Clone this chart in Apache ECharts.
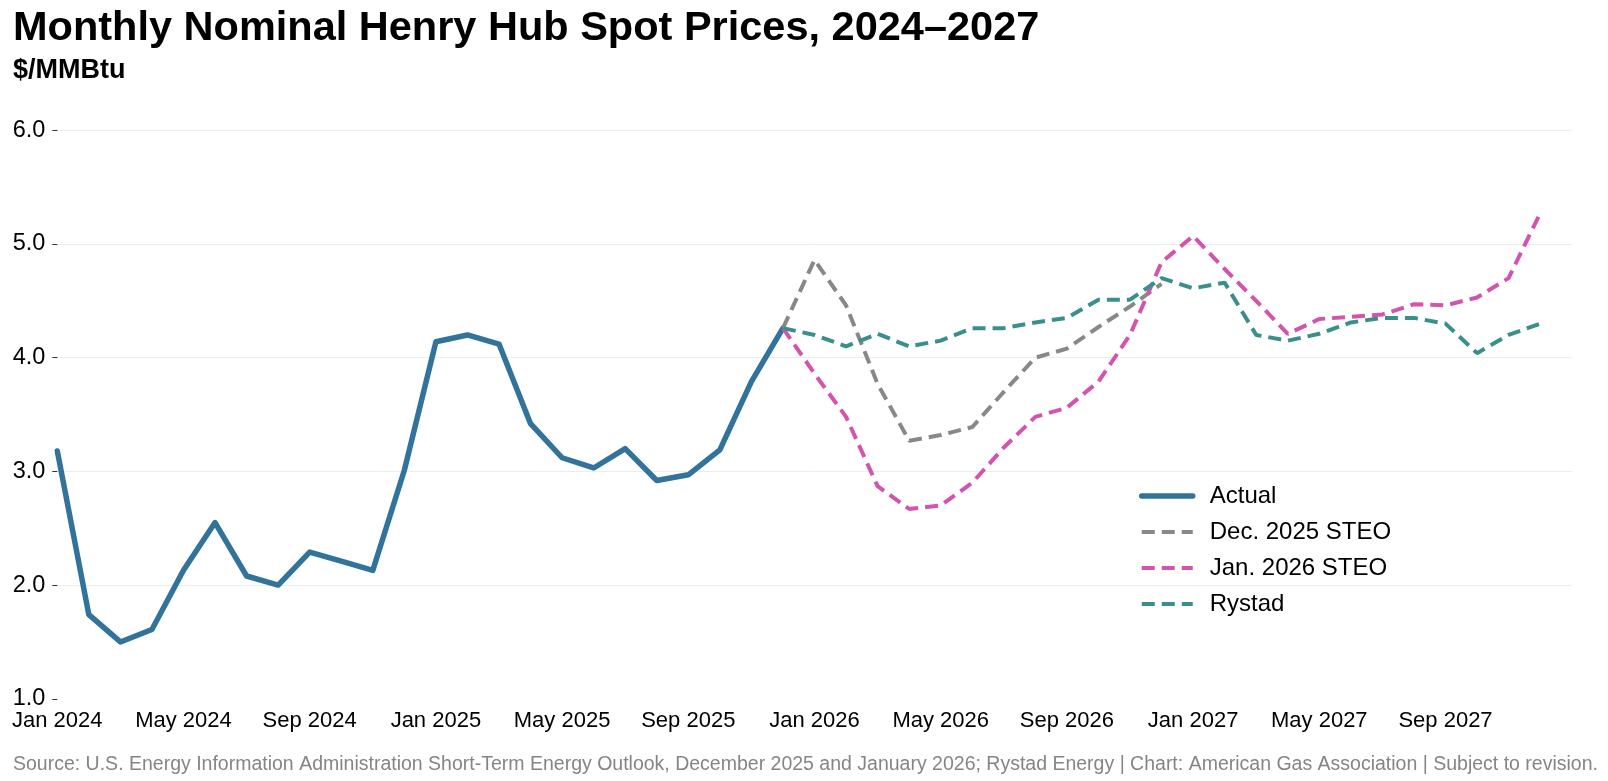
<!DOCTYPE html>
<html>
<head>
<meta charset="utf-8">
<script src="https://cdn.jsdelivr.net/npm/echarts@6/dist/echarts.min.js"></script>
<style>
html,body{margin:0;padding:0;background:#fff;}
#chart{width:1608px;height:781px;}
</style>
</head>
<body>
<div id="chart"></div>
<script>
// Categories: Jan 2024 ... Jan 2028 (axis extends one month past last data point)
const monthNames = ['Jan','Feb','Mar','Apr','May','Jun','Jul','Aug','Sep','Oct','Nov','Dec'];
const years = [2024, 2025, 2026, 2027, 2028];
const categories = [];
years.forEach(y => monthNames.forEach((m, i) => { if (y < 2028 || i === 0) categories.push(m + ' ' + y); }));

// Actual: Jan 2024 - Dec 2025
const actual = [3.18, 1.74, 1.50, 1.61, 2.13, 2.55, 2.08, 2.00, 2.29, 2.21, 2.13, 3.01,
                4.14, 4.20, 4.12, 3.42, 3.12, 3.03, 3.20, 2.92, 2.97, 3.19, 3.79, 4.26];
// Dec. 2025 STEO: Dec 2025 - Dec 2026
const dec2025Steo = [4.26, 4.86, 4.46, 3.77, 3.27, 3.32, 3.39, 3.70, 4.00, 4.08, 4.27, 4.45, 4.65];
// Jan. 2026 STEO: Dec 2025 - Dec 2027
const jan2026Steo = [4.26, 3.86, 3.48, 2.87, 2.67, 2.70, 2.90, 3.21, 3.48, 3.56, 3.79, 4.20, 4.84,
                     5.07, 4.78, 4.50, 4.21, 4.34, 4.36, 4.38, 4.47, 4.46, 4.53, 4.70, 5.27];
// Rystad: Dec 2025 - Dec 2027
const rystad = [4.26, 4.20, 4.10, 4.21, 4.10, 4.15, 4.26, 4.26, 4.31, 4.35, 4.51, 4.51, 4.70,
                4.61, 4.66, 4.20, 4.15, 4.21, 4.31, 4.35, 4.35, 4.30, 4.04, 4.20, 4.30];
const yTicks = [1, 2, 3, 4, 5, 6];

const forecastStart = categories.indexOf('Dec 2025');
function place(values, start) {
  const out = categories.map(() => null);
  values.forEach((v, i) => { out[start + i] = v; });
  return out;
}

const FONT = '"Liberation Sans", Arial, sans-serif';
const chart = echarts.init(document.getElementById('chart'), null, {renderer: 'canvas'});
const dash = [13, 7];

chart.setOption({
  animation: false,
  backgroundColor: '#ffffff',
  title: [
    {text: 'Monthly Nominal Henry Hub Spot Prices, 2024\u20132027', left: 8, top: 3,
     textStyle: {fontFamily: FONT, fontSize: 41.5, fontWeight: 'bold', color: '#000'}},
    {text: '$/MMBtu', left: 8, top: 52,
     textStyle: {fontFamily: FONT, fontSize: 27, fontWeight: 'bold', color: '#000'}},
    {text: 'Source: U.S. Energy Information Administration Short-Term Energy Outlook, December 2025 and January 2026; Rystad Energy | Chart: American Gas Association | Subject to revision.',
     left: 8, top: 750,
     textStyle: {fontFamily: FONT, fontSize: 19.5, fontWeight: 'normal', color: '#858585'}}
  ],
  grid: {left: 57.3, right: 36.3, top: 130.3, bottom: 82.2, containLabel: false},
  legend: {
    orient: 'vertical', left: 1134, top: 477,
    itemWidth: 51, itemHeight: 14, itemGap: 8,
    itemStyle: {opacity: 0},
    lineStyle: {width: 'inherit', type: 'inherit'},
    textStyle: {fontFamily: FONT, fontSize: 24, color: '#000', lineHeight: 28, padding: [0, 0, 0, 12]},
    data: ['Actual', 'Dec. 2025 STEO', 'Jan. 2026 STEO', 'Rystad']
  },
  xAxis: {
    type: 'category', data: categories, boundaryGap: false,
    axisLine: {show: false}, axisTick: {show: false},
    splitLine: {show: false},
    axisLabel: {
      interval: (idx) => idx % 4 === 0 && idx < categories.length - 1,
      fontFamily: FONT, fontSize: 22, color: '#000', margin: 11
    }
  },
  yAxis: {
    type: 'value', min: 1, max: 6, interval: 1,
    axisLine: {show: false},
    axisTick: {show: true, length: 5, lineStyle: {color: '#333', width: 1}},
    axisLabel: {formatter: (v) => v.toFixed(1), fontFamily: FONT, fontSize: 23.5, color: '#000', margin: 12, padding: [2, 0, 0, 0]},
    splitLine: {show: true, lineStyle: {color: ['rgba(0,0,0,0)', '#ececec', '#ececec', '#ececec', '#ececec', '#ececec'], width: 1}}
  },
  series: [
    {name: 'Actual', type: 'line', data: place(actual, 0), symbol: 'none', connectNulls: false,
     lineStyle: {color: '#31739a', width: 5.5, cap: 'round', join: 'round'}, itemStyle: {color: '#31739a'}},
    {name: 'Dec. 2025 STEO', type: 'line', data: place(dec2025Steo, forecastStart), symbol: 'none',
     lineStyle: {color: '#888888', width: 4, type: dash}, itemStyle: {color: '#888888'}},
    {name: 'Jan. 2026 STEO', type: 'line', data: place(jan2026Steo, forecastStart), symbol: 'none',
     lineStyle: {color: '#d453ad', width: 4, type: dash}, itemStyle: {color: '#d453ad'}},
    {name: 'Rystad', type: 'line', data: place(rystad, forecastStart), symbol: 'none',
     lineStyle: {color: '#3a8f8c', width: 4, type: dash}, itemStyle: {color: '#3a8f8c'}}
  ]
});
</script>
</body>
</html>
